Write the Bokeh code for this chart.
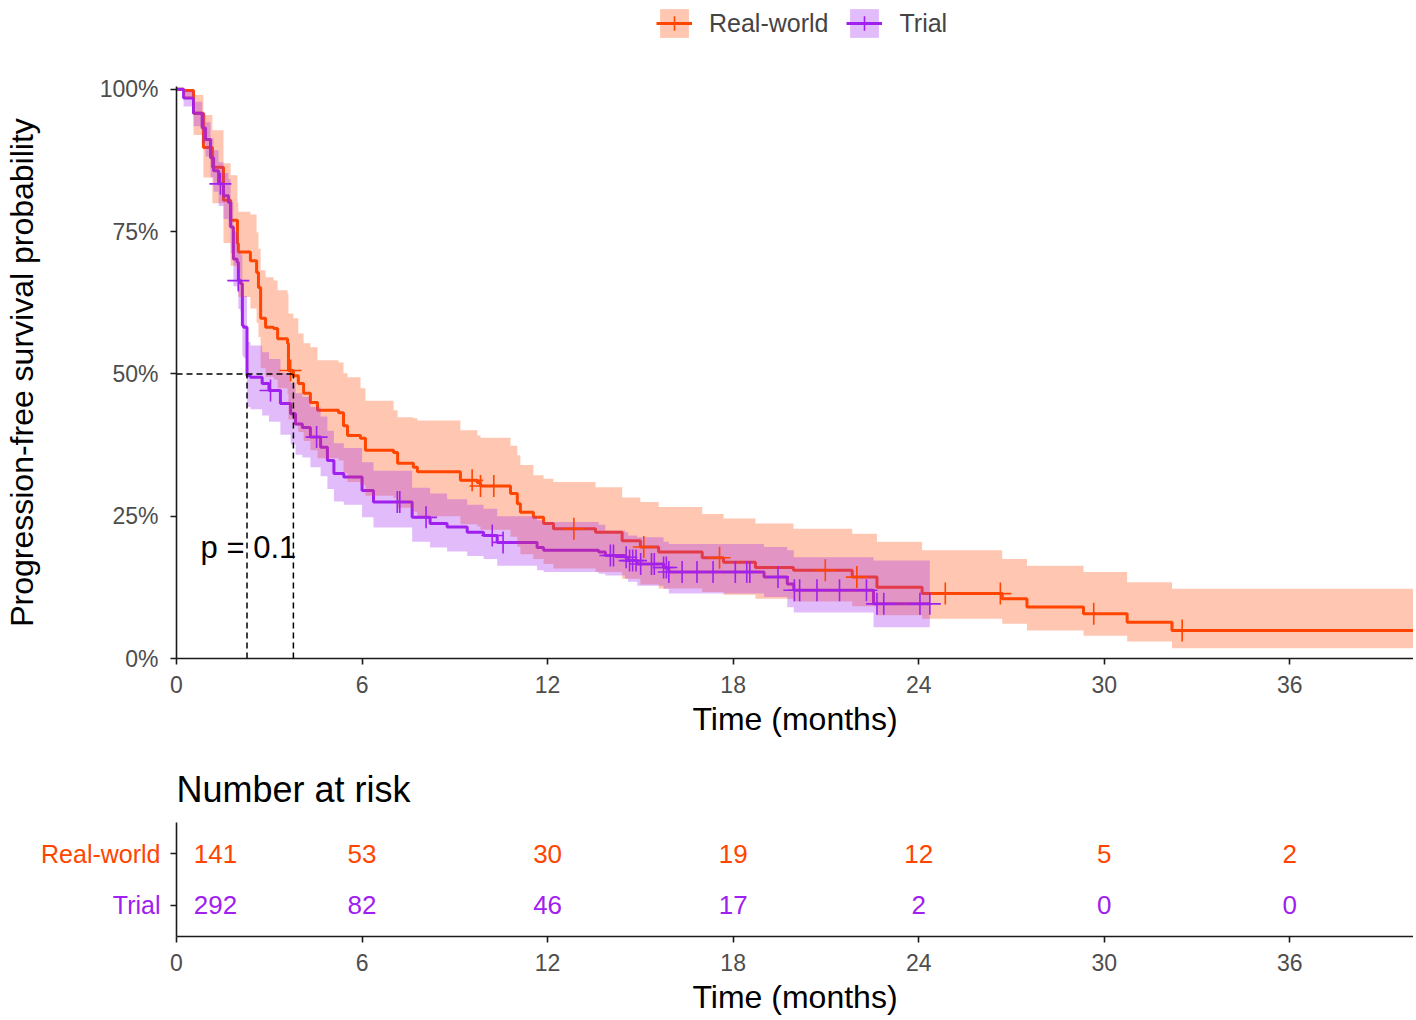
import numpy as np
from bokeh.plotting import figure
from bokeh.models import (Range1d, FixedTicker, NumeralTickFormatter, Legend,
                          LegendItem, Label)
from bokeh.layouts import column, row
from bokeh.embed import file_html
from bokeh.resources import INLINE
from bokeh.core.properties import value

# ---------------- data ----------------
groups = ["Real-world", "Trial"]

rw_time = [0.00, 0.23, 0.55, 0.87, 1.16, 1.52, 1.75, 1.97, 2.00, 2.39, 2.59, 2.65,
           2.72, 2.88, 3.14, 3.27, 3.59, 3.62, 3.78, 3.94, 4.11, 4.33, 4.56, 5.24,
           5.40, 5.53, 5.95, 6.11, 7.02, 7.15, 7.66, 7.79, 9.18, 9.73, 9.83, 10.80,
           11.02, 11.12, 11.54, 11.87, 12.19, 13.55, 14.41, 15.00, 15.59, 17.00,
           17.69, 18.72, 19.95, 21.85, 22.65, 24.11, 26.70, 27.50, 29.33, 30.74,
           32.19, 40.00]
rw_surv = [1.000, 0.998, 0.958, 0.898, 0.863, 0.805, 0.770, 0.729, 0.714, 0.699, 0.678, 0.652,
           0.598, 0.582, 0.580, 0.562, 0.554, 0.506, 0.497, 0.483, 0.466, 0.450, 0.436, 0.432,
           0.409, 0.392, 0.387, 0.366, 0.362, 0.343, 0.336, 0.328, 0.313, 0.309, 0.303, 0.290,
           0.272, 0.257, 0.248, 0.237, 0.228, 0.222, 0.207, 0.196, 0.187, 0.177,
           0.169, 0.160, 0.155, 0.143, 0.125, 0.114, 0.105, 0.0905, 0.0786, 0.0638,
           0.0492, 0.0492]
rw_upper = [1.000, 1.000, 0.990, 0.955, 0.928, 0.870, 0.849, 0.801, 0.785, 0.780, 0.749, 0.720,
            0.682, 0.670, 0.664, 0.647, 0.641, 0.606, 0.598, 0.571, 0.554, 0.547, 0.524, 0.520,
            0.501, 0.494, 0.475, 0.453, 0.436, 0.424, 0.422, 0.418, 0.401, 0.392, 0.388, 0.374,
            0.357, 0.340, 0.322, 0.316, 0.310, 0.301, 0.283, 0.275, 0.266, 0.254,
            0.246, 0.237, 0.228, 0.219, 0.205, 0.190, 0.175, 0.163, 0.152, 0.134,
            0.1225, 0.1225]
rw_lower = [1.000, 0.985, 0.920, 0.845, 0.800, 0.730, 0.690, 0.650, 0.635, 0.615, 0.590, 0.565,
            0.510, 0.495, 0.490, 0.475, 0.465, 0.420, 0.410, 0.398, 0.382, 0.366, 0.352, 0.348,
            0.326, 0.310, 0.305, 0.286, 0.282, 0.265, 0.258, 0.250, 0.236, 0.232, 0.226, 0.214,
            0.197, 0.183, 0.175, 0.166, 0.158, 0.152, 0.140, 0.130, 0.123, 0.117,
            0.112, 0.105, 0.100, 0.092, 0.076, 0.070, 0.061, 0.049, 0.040, 0.030,
            0.018, 0.018]
rw_censor = [3.69, 9.56, 9.83, 10.26, 12.85, 15.11, 17.56, 20.98, 22.00, 24.86,
             26.64, 29.66, 32.52]

tr_time = [0.00, 0.23, 0.55, 0.83, 0.94, 1.10, 1.20, 1.36, 1.52, 1.68, 1.75, 1.84,
           1.96, 2.00, 2.07, 2.13, 2.17, 2.28, 2.39, 2.77, 2.99, 3.36, 3.69, 3.85,
           4.07, 4.33, 4.66, 4.88, 5.09, 5.41, 6.00, 6.37, 7.62, 8.20, 8.75, 9.40,
           9.93, 10.37, 11.66, 11.87, 13.65, 13.87, 14.50, 14.60, 14.90, 15.75,
           15.92, 19.00, 19.75, 19.96, 22.54, 24.36]
tr_surv = [1.000, 0.985, 0.958, 0.932, 0.912, 0.880, 0.857, 0.834, 0.813, 0.801, 0.758, 0.702,
           0.696, 0.664, 0.659, 0.585, 0.582, 0.497, 0.494, 0.483, 0.471, 0.448, 0.430, 0.412,
           0.406, 0.389, 0.371, 0.348, 0.325, 0.319, 0.295, 0.275, 0.248, 0.237, 0.231, 0.222,
           0.216, 0.204, 0.195, 0.190, 0.187, 0.181, 0.178, 0.172, 0.166, 0.160,
           0.152, 0.143, 0.131, 0.120, 0.096, 0.096]
tr_upper = [1.000, 0.997, 0.978, 0.958, 0.942, 0.914, 0.893, 0.872, 0.853, 0.842, 0.802, 0.750,
            0.745, 0.715, 0.710, 0.640, 0.637, 0.556, 0.550, 0.538, 0.526, 0.502, 0.484, 0.466,
            0.460, 0.442, 0.425, 0.400, 0.378, 0.370, 0.345, 0.330, 0.300, 0.290, 0.280, 0.270,
            0.263, 0.250, 0.243, 0.240, 0.235, 0.225, 0.222, 0.216, 0.213, 0.205,
            0.201, 0.196, 0.190, 0.178, 0.172, 0.172]
tr_lower = [1.000, 0.970, 0.935, 0.905, 0.882, 0.845, 0.820, 0.795, 0.772, 0.758, 0.712, 0.654,
            0.647, 0.614, 0.608, 0.532, 0.528, 0.442, 0.438, 0.427, 0.416, 0.393, 0.376, 0.358,
            0.353, 0.336, 0.320, 0.298, 0.276, 0.270, 0.248, 0.230, 0.205, 0.195, 0.188, 0.180,
            0.175, 0.163, 0.155, 0.152, 0.149, 0.146, 0.140, 0.135, 0.128, 0.122,
            0.114, 0.108, 0.090, 0.081, 0.055, 0.055]
tr_censor = [1.42, 2.00, 3.04, 4.53, 7.14, 7.22, 8.07, 10.21, 10.56, 14.03, 14.13, 14.54,
             14.65, 14.75, 14.86, 15.01, 15.36, 15.45, 15.75, 15.84, 15.92, 16.35, 16.83,
             17.35, 18.07, 18.44, 18.54, 19.45, 19.98, 20.15, 20.71, 21.44, 22.31, 22.65,
             22.87, 24.04, 24.36]

risk_times = [0, 6, 12, 18, 24, 30, 36]
risk_counts = {"Real-world": [141, 53, 30, 19, 12, 5, 2],
               "Trial": [292, 82, 46, 17, 2, 0, 0]}
p_value_text = "p = 0.1"

x_ticks = [0, 6, 12, 18, 24, 30, 36]
y_ticks = [0, 0.25, 0.5, 0.75, 1.0]

# ---------------- style ----------------
FONT = "Liberation Sans"
ORANGE = "#FF4500"
PURPLE = "#A020F0"
COLORS = {"Real-world": ORANGE, "Trial": PURPLE}
XMAX = 40.0
TICK_COLOR = "#4D4D4D"
TOTAL_W = 1413


def step_lookup(times, surv, t):
    idx = np.searchsorted(np.asarray(times), np.asarray(t), side="right") - 1
    return list(np.asarray(surv)[idx])


def style_axes(fig):
    for ax in (fig.xaxis[0], fig.yaxis[0]):
        ax.axis_line_width = 1.6
        ax.axis_line_color = "#1A1A1A"
        ax.major_tick_line_width = 1.6
        ax.major_tick_line_color = "#1A1A1A"
        ax.major_tick_out = 6
        ax.major_tick_in = 0
        ax.minor_tick_line_color = None
        ax.major_label_text_font = FONT
        ax.major_label_text_font_size = "23px"
        ax.major_label_text_color = TICK_COLOR
        ax.axis_label_text_font = FONT
        ax.axis_label_text_font_size = "32px"
        ax.axis_label_text_font_style = "normal"
        ax.axis_label_text_color = "black"
    fig.grid.visible = False
    fig.outline_line_color = None


def draw_series(fig, g, t, s, up, lo, cz, width=3):
    ln = fig.step(t, s, mode="after", line_color=COLORS[g], line_width=width)
    bd = fig.varea_step(x=t, y1=lo, y2=up, step_mode="after",
                        fill_color=COLORS[g], fill_alpha=0.3)
    mk = fig.scatter(cz, step_lookup(t, s, cz), marker="cross", size=22,
                     line_color=COLORS[g], line_width=1.6)
    return ln, bd, mk


series = {
    "Real-world": (rw_time, rw_surv, rw_upper, rw_lower, rw_censor),
    "Trial": (tr_time, tr_surv, tr_upper, tr_lower, tr_censor),
}

# ---------------- legend strip (top) ----------------
leg = figure(width=TOTAL_W, height=44, x_range=Range1d(-10, -9), y_range=Range1d(-10, -9),
             output_backend="svg", toolbar_location=None,
             x_axis_location=None, y_axis_location=None,
             min_border_left=0, min_border_right=0, min_border_top=0, min_border_bottom=0)
leg.grid.visible = False
leg.outline_line_color = None
leg_items = []
for g in groups:
    ln, bd, mk = draw_series(leg, g, *series[g])
    leg_items.append(LegendItem(label=g, renderers=[bd, ln, mk]))
legend = Legend(items=leg_items, orientation="horizontal", location=(480, 3),
                glyph_width=36, glyph_height=36, label_text_font=FONT,
                label_text_font_size="25px", label_standoff=17, spacing=18,
                padding=0, margin=0, border_line_color=None, background_fill_alpha=0)
leg.add_layout(legend)

# ---------------- main KM plot ----------------
p = figure(width=TOTAL_W, height=706, x_range=Range1d(0, XMAX), y_range=Range1d(0, 1.005),
           output_backend="svg", toolbar_location=None,
           min_border_left=176, min_border_right=0, min_border_top=42, min_border_bottom=92)
style_axes(p)
p.xaxis.ticker = FixedTicker(ticks=x_ticks)
p.yaxis.ticker = FixedTicker(ticks=y_ticks)
p.yaxis.formatter = NumeralTickFormatter(format="0%")
p.xaxis.axis_label = "Time (months)"
p.yaxis.axis_label = "Progression-free survival probability"
p.xaxis.major_label_standoff = 11
p.xaxis.axis_label_standoff = 5
p.yaxis.major_label_standoff = 12
p.yaxis.axis_label_standoff = 57

lines, bands, marks = {}, {}, {}
for g in groups:
    t, s, up, lo, cz = series[g]
    lines[g] = p.step(t, s, mode="after", line_color=COLORS[g], line_width=3)
for g in groups:
    t, s, up, lo, cz = series[g]
    bands[g] = p.varea_step(x=t, y1=lo, y2=up, step_mode="after",
                            fill_color=COLORS[g], fill_alpha=0.3)
for g in groups:
    t, s, up, lo, cz = series[g]
    marks[g] = p.scatter(cz, step_lookup(t, s, cz), marker="cross", size=22,
                         line_color=COLORS[g], line_width=1.6)

# median lines
medians = []
for g in groups:
    t, s = series[g][0], series[g][1]
    medians.append(next(tt for tt, ss in zip(t, s) if ss <= 0.5))
p.segment(x0=[0], y0=[0.5], x1=[max(medians)], y1=[0.5],
          line_color="black", line_width=1.5, line_dash="6 4")
p.segment(x0=medians, y0=[0] * len(medians), x1=medians, y1=[0.5] * len(medians),
          line_color="black", line_width=1.5, line_dash="6 4")

p.add_layout(Label(x=0.78, y=0.195, text=p_value_text, text_font=FONT,
                   text_font_size="31px", text_baseline="middle", text_color="black"))

# ---------------- risk table ----------------
LEFT_W = 166
RISK_H = 270
row_pos = {g: len(groups) - 1 - i + 0.6 for i, g in enumerate(groups)}

lab = figure(width=LEFT_W, height=RISK_H, x_range=Range1d(0, 1), y_range=Range1d(0, 2.2),
             output_backend="svg", toolbar_location=None,
             x_axis_location=None, y_axis_location=None,
             min_border_left=0, min_border_right=0, min_border_top=72, min_border_bottom=84)
lab.grid.visible = False
lab.outline_line_color = None
lab.text(x=[1] * len(groups), y=[row_pos[g] for g in groups], text=groups,
         x_offset=-6, text_align="right", text_baseline="middle",
         text_color=[COLORS[g] for g in groups], text_font=value(FONT),
         text_font_size="25px")

r = figure(width=TOTAL_W - LEFT_W, height=RISK_H, x_range=Range1d(0, XMAX),
           y_range=Range1d(0, 2.2), output_backend="svg", toolbar_location=None,
           min_border_left=176 - LEFT_W, min_border_right=0, min_border_top=72,
           min_border_bottom=84)
style_axes(r)
r.title.text = "Number at risk"
r.title.text_font = FONT
r.title.text_font_size = "36px"
r.title.text_font_style = "normal"
r.title.text_color = "black"
r.title.align = "left"
r.title.standoff = 26
r.xaxis.ticker = FixedTicker(ticks=x_ticks)
r.xaxis.axis_label = "Time (months)"
r.xaxis.major_label_standoff = 11
r.xaxis.axis_label_standoff = 5
r.yaxis.ticker = FixedTicker(ticks=list(row_pos.values()))
r.yaxis.major_label_overrides = {v: "" for v in row_pos.values()}
r.yaxis.major_label_standoff = 0

for g in groups:
    counts = risk_counts[g]
    offsets = [39 if tt == risk_times[0] else 0 for tt in risk_times]
    r.text(x=risk_times, y=[row_pos[g]] * len(risk_times), text=[str(c) for c in counts],
           x_offset=offsets, text_align="center", text_baseline="middle",
           text_color=COLORS[g], text_font=value(FONT), text_font_size="26px")

layout = column(leg, p, row(lab, r))
open("out.html", "w").write(file_html(layout, INLINE))
